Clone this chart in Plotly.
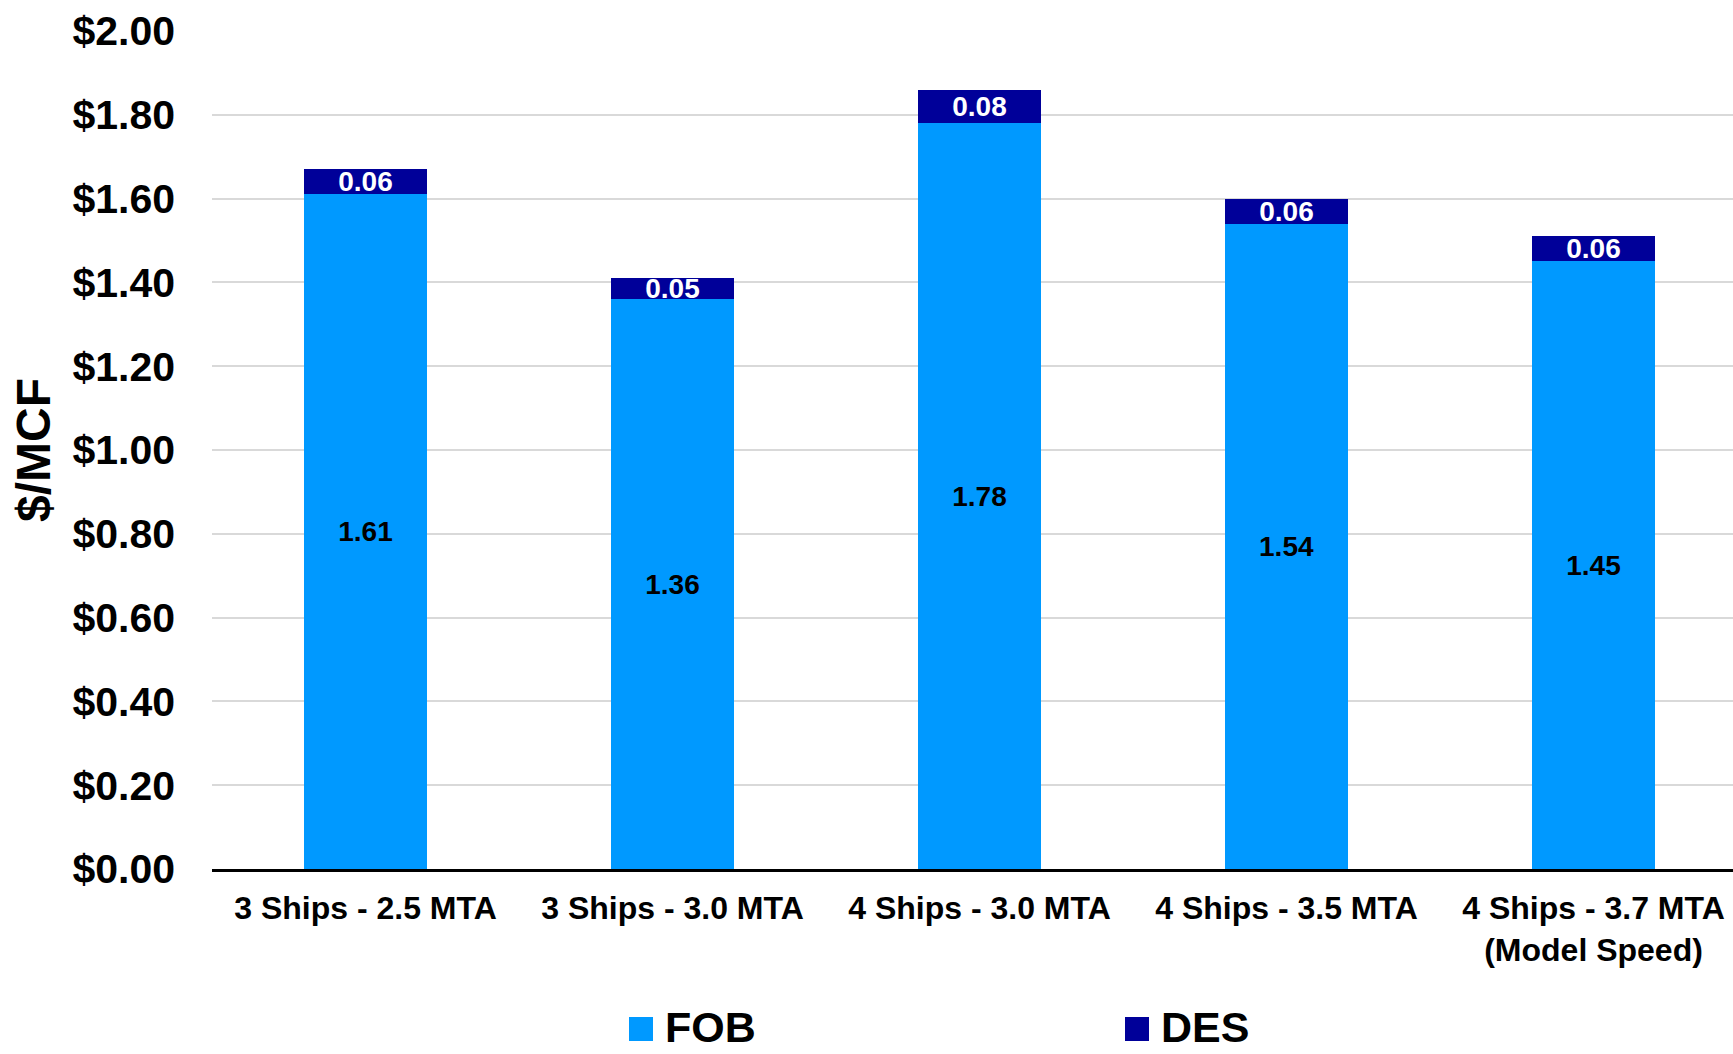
import plotly.graph_objects as go

# Shipping-cost scenarios
categories = [
    "3 Ships - 2.5 MTA",
    "3 Ships - 3.0 MTA",
    "4 Ships - 3.0 MTA",
    "4 Ships - 3.5 MTA",
    "4 Ships - 3.7 MTA<br>(Model Speed)",
]
fob_values = [1.61, 1.36, 1.78, 1.54, 1.45]
des_values = [0.06, 0.05, 0.08, 0.06, 0.06]

y_tick_values = [0.0, 0.2, 0.4, 0.6, 0.8, 1.0, 1.2, 1.4, 1.6, 1.8, 2.0]
y_tick_labels = ["$0.00", "$0.20", "$0.40", "$0.60", "$0.80", "$1.00",
                 "$1.20", "$1.40", "$1.60", "$1.80", "$2.00"]

series_names = ["FOB", "DES"]
FOB_COLOR = "#0099FF"
DES_COLOR = "#000099"

FONT = "Liberation Sans, Arial, Helvetica, sans-serif"
W, H = 1733, 1054
M_L, M_R, M_T, M_B = 212, 0, 31, 185

fig = go.Figure()

fig.add_trace(go.Bar(
    x=categories, y=fob_values, name=series_names[0],
    marker=dict(color=FOB_COLOR, line=dict(width=0)),
    width=0.4,
    text=[f"{v:.2f}" for v in fob_values],
    textposition="inside", insidetextanchor="middle",
    textangle=0, constraintext="none",
    textfont=dict(family=FONT, size=28, color="black", weight="bold"),
    hoverinfo="skip", showlegend=False,
))
fig.add_trace(go.Bar(
    x=categories, y=des_values, name=series_names[1],
    marker=dict(color=DES_COLOR, line=dict(width=0)),
    width=0.4,
    text=[f"{v:.2f}" for v in des_values],
    textposition="inside", insidetextanchor="middle",
    textangle=0, constraintext="none",
    textfont=dict(family=FONT, size=28, color="white", weight="bold"),
    hoverinfo="skip", showlegend=False,
))

# Legend drawn as squares + labels below the axis
plot_w = W - M_L - M_R
plot_h = H - M_T - M_B


def px_x(p):
    return (p - M_L) / plot_w


def px_y(p):
    return (H - M_B - p) / plot_h


legend_items = [(series_names[0], FOB_COLOR, 629), (series_names[1], DES_COLOR, 1125)]
shapes = []
annotations = []
for name, color, left in legend_items:
    shapes.append(dict(
        type="rect", xref="paper", yref="paper",
        x0=px_x(left), x1=px_x(left + 24),
        y0=px_y(1041), y1=px_y(1017),
        fillcolor=color, line=dict(width=0),
    ))
    annotations.append(dict(
        xref="paper", yref="paper", x=px_x(left + 34), y=px_y(1053),
        xanchor="left", yanchor="bottom", showarrow=False,
        text=name, font=dict(family=FONT, size=43, color="black", weight="bold"),
    ))

fig.update_layout(
    width=W, height=H,
    margin=dict(l=M_L, r=M_R, t=M_T, b=M_B, autoexpand=False),
    barmode="stack",
    plot_bgcolor="white", paper_bgcolor="white",
    font=dict(family=FONT, color="black"),
    shapes=shapes, annotations=annotations,
    showlegend=False,
    xaxis=dict(
        type="category",
        range=[-0.5, -0.5 + plot_w / 307.0],
        showgrid=False, zeroline=False,
        showline=True, linecolor="black", linewidth=3,
        ticks="", ticklabelstandoff=9,
        tickfont=dict(family=FONT, size=32, color="black", weight="bold"),
    ),
    yaxis=dict(
        range=[0, 2.0],
        tickvals=y_tick_values, ticktext=y_tick_labels,
        showgrid=True, gridcolor="#d9d9d9", gridwidth=2,
        zeroline=False, showline=False, ticks="",
        ticklabelstandoff=36,
        tickfont=dict(family=FONT, size=41, color="black", weight="bold"),
        title=dict(text="$/MCF", standoff=6,
                   font=dict(family=FONT, size=48, color="black", weight="bold")),
        automargin=False,
    ),
)

fig.write_html("out.html")
